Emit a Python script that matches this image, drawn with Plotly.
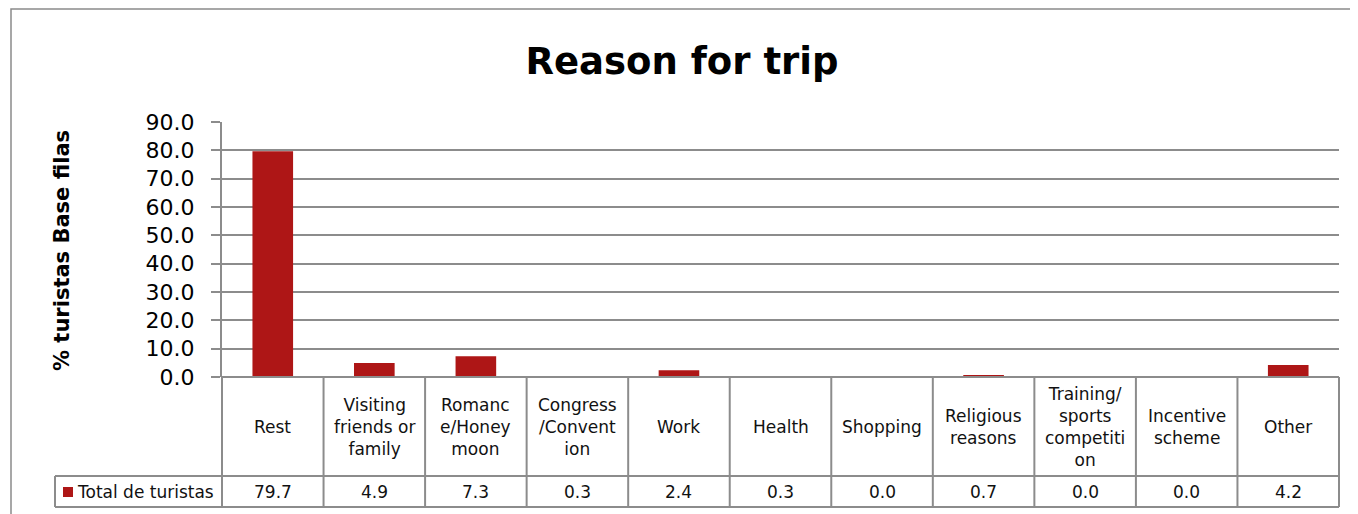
import plotly.graph_objects as go

categories = ["Rest", "Visiting friends or family", "Romance/Honeymoon", "Congress/Convention",
              "Work", "Health", "Shopping", "Religious reasons",
              "Training/sports competition", "Incentive scheme", "Other"]
category_labels = ["Rest", "Visiting<br>friends or<br>family", "Romanc<br>e/Honey<br>moon",
                   "Congress<br>/Convent<br>ion", "Work", "Health", "Shopping",
                   "Religious<br>reasons", "Training/<br>sports<br>competiti<br>on",
                   "Incentive<br>scheme", "Other"]
values = [79.7, 4.9, 7.3, 0.3, 2.4, 0.3, 0.0, 0.7, 0.0, 0.0, 4.2]
series_name = "Total de turistas"
y_tick_values = [0, 10, 20, 30, 40, 50, 60, 70, 80, 90]

# the page body adds an 8px margin, so the figure is sized to fit the window
OFF = 8
W, H = 1358 - OFF, 514 - OFF
L, R, T, B = 222 - OFF, 19, 122 - OFF, 137
PW, PH = W - L - R, H - T - B
FONT = "DejaVu Sans"
BAR = "#AE1616"
GRID = "#8C8C8C"


def px_x(px):
    """page pixel x -> paper x"""
    return (px - OFF - L) / PW


def px_y(py):
    """page pixel y -> paper y"""
    return (H - B - (py - OFF)) / PH


fig = go.Figure()
fig.add_trace(go.Bar(x=categories, y=values, name=series_name, marker_color=BAR,
                     marker_line_width=0, showlegend=False))

n = len(categories)
y_top = 0.0
y_mid = px_y(476)
y_bot = px_y(507)
x_leg = px_x(55)

shapes = []
line = dict(color=GRID, width=2)
# outer chart border
shapes.append(dict(type="rect", xref="paper", yref="paper", x0=px_x(11), x1=px_x(1370),
                   y0=px_y(525), y1=px_y(9), line=dict(color="#8A8A8A", width=1.5)))
# table horizontal lines
shapes.append(dict(type="line", xref="paper", yref="paper", x0=0, x1=1, y0=y_top, y1=y_top, line=line))
shapes.append(dict(type="line", xref="paper", yref="paper", x0=x_leg, x1=1, y0=y_mid, y1=y_mid, line=line))
shapes.append(dict(type="line", xref="paper", yref="paper", x0=x_leg, x1=1, y0=y_bot, y1=y_bot, line=line))
# table vertical lines
for i in range(n + 1):
    shapes.append(dict(type="line", xref="paper", yref="paper", x0=i / n, x1=i / n,
                       y0=y_bot, y1=y_top, line=line))
shapes.append(dict(type="line", xref="paper", yref="paper", x0=x_leg, x1=x_leg,
                   y0=y_bot, y1=y_mid, line=line))
# legend swatch
shapes.append(dict(type="rect", xref="paper", yref="paper", x0=px_x(63), x1=px_x(73),
                   y0=px_y(497), y1=px_y(487), fillcolor=BAR, line=dict(width=0)))

annotations = []
tfont = dict(family=FONT, size=17, color="#111111")
for c, lab, v in zip(categories, category_labels, values):
    annotations.append(dict(x=c, xref="x", yref="paper", y=(y_top + y_mid) / 2, text=lab,
                            showarrow=False, font=tfont, xanchor="center", yanchor="middle"))
    annotations.append(dict(x=c, xref="x", yref="paper", y=(y_mid + y_bot) / 2, text=f"{v:.1f}",
                            showarrow=False, font=tfont, xanchor="center", yanchor="middle"))
annotations.append(dict(x=px_x(75), xref="paper", yref="paper", y=(y_mid + y_bot) / 2,
                        text=series_name, showarrow=False, font=tfont,
                        xanchor="left", yanchor="middle"))
annotations.append(dict(x=px_x(62), xref="paper", yref="paper", y=px_y(251),
                        text="<b>% turistas Base filas</b>", textangle=-90, showarrow=False,
                        font=dict(family=FONT, size=21, color="#000000"),
                        xanchor="center", yanchor="middle"))

fig.update_layout(
    width=W, height=H,
    margin=dict(l=L, r=R, t=T, b=B),
    paper_bgcolor="white", plot_bgcolor="white",
    font=dict(family=FONT, color="#000000"),
    title=dict(text="<b>Reason for trip</b>", x=(682 - OFF) / W, xref="container",
               xanchor="center", y=1 - (61 - OFF) / H, yref="container", yanchor="middle",
               font=dict(family=FONT, size=37, color="#000000")),
    bargap=0.6,
    xaxis=dict(range=[-0.5, n - 0.5], showticklabels=False, ticks="", showgrid=False,
               zeroline=False, showline=False, fixedrange=True),
    yaxis=dict(range=[0, 90], tickvals=y_tick_values, tickformat=".1f",
               showgrid=True, gridcolor=GRID, gridwidth=1.5, zeroline=False,
               showline=True, linecolor=GRID, linewidth=2,
               ticks="outside", ticklen=9, tickcolor=GRID, tickwidth=1.5,
               ticklabelstandoff=12,
               tickfont=dict(family=FONT, size=22, color="#000000")),
    shapes=shapes,
    annotations=annotations,
)

fig.write_html("out.html")
